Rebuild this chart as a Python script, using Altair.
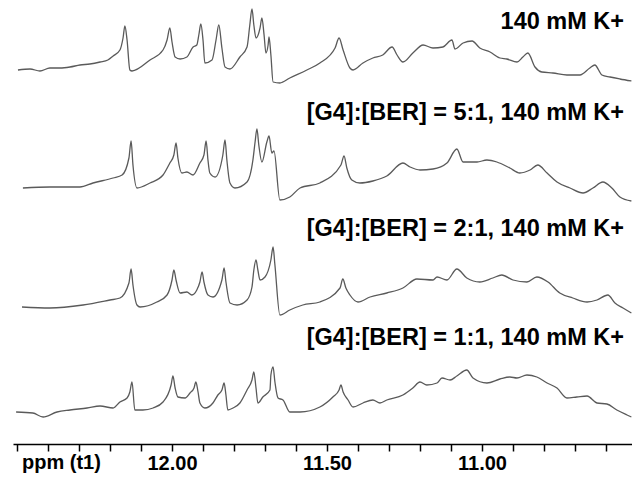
import altair as alt
import pandas as pd

# ---- Trace 1: 140 mM K+ (top) ----
ppm1 = [12.497, 12.458, 12.426, 12.394, 12.361, 12.329, 12.297, 12.265, 12.232, 12.207,
        12.190, 12.168, 12.158, 12.152, 12.145, 12.136, 12.129, 12.071, 12.029, 12.016,
        12.007, 12.000, 11.990, 11.974, 11.952, 11.932, 11.920, 11.913, 11.907, 11.900,
        11.894, 11.871, 11.858, 11.849, 11.839, 11.829, 11.813, 11.781, 11.758, 11.749,
        11.742, 11.736, 11.729, 11.716, 11.710, 11.703, 11.697, 11.690, 11.687, 11.681,
        11.674, 11.652, 11.620, 11.565, 11.523, 11.474, 11.461, 11.448, 11.426, 11.416,
        11.384, 11.352, 11.320, 11.290, 11.274, 11.255, 11.223, 11.190, 11.158, 11.126,
        11.097, 11.087, 11.061, 11.032, 11.007, 10.974, 10.942, 10.920, 10.887, 10.868,
        10.852, 10.829, 10.807, 10.771, 10.726, 10.684, 10.652, 10.636, 10.613, 10.587,
        10.555, 10.518]
int1 = [0, 1, -1, 2, 2, 3, 5, 6, 8, 10,
        14, 20, 32, 44, 30, 0, -1, 10, 20, 30,
        42, 28, 13, 11, 13, 23, 25, 36, 46, 30,
        7, 10, 30, 45, 22, 3, 1, 13, 23, 45,
        61, 45, 32, 42, 52, 35, 17, 25, 33, 15,
        -12, -13, -8, 0, 7, 22, 32, 20, 2, 0,
        7, 12, 15, 23, 15, 8, 17, 25, 22, 23,
        30, 21, 27, 29, 22, 18, 12, 11, 8, 13,
        17, 3, -2, -3, -5, -5, 2, 5, -5, -7,
        -9, -11]

# ---- Trace 2: [G4]:[BER] = 5:1 ----
ppm2 = [12.481, 12.394, 12.297, 12.255, 12.190, 12.161, 12.139, 12.132, 12.126, 12.113,
        12.071, 12.029, 12.007, 11.994, 11.987, 11.981, 11.968, 11.952, 11.932, 11.910,
        11.897, 11.890, 11.884, 11.878, 11.861, 11.836, 11.829, 11.823, 11.813, 11.797,
        11.758, 11.739, 11.732, 11.726, 11.720, 11.710, 11.694, 11.687, 11.678, 11.671,
        11.652, 11.620, 11.587, 11.523, 11.455, 11.445, 11.436, 11.420, 11.394, 11.352,
        11.307, 11.255, 11.232, 11.200, 11.158, 11.113, 11.081, 11.061, 11.016, 10.984,
        10.952, 10.910, 10.878, 10.845, 10.820, 10.790, 10.758, 10.716, 10.674, 10.642,
        10.610, 10.581, 10.555, 10.518]
int2 = [0, 1, 1, 5, 10, 13, 30, 47, 23, 0,
        5, 13, 25, 33, 45, 30, 15, 16, 13, 25,
        33, 47, 28, 15, 11, 33, 48, 28, 5, 0,
        6, 28, 46, 59, 43, 26, 46, 52, 35, 37,
        -12, -9, 0, 5, 23, 32, 20, 8, 5, 7,
        12, 25, 21, 18, 19, 25, 39, 26, 26, 28,
        26, 20, 15, 18, 23, 15, 6, 0, -5, 0,
        6, 0, -9, -13]

# ---- Trace 3: [G4]:[BER] = 2:1 ----
ppm3 = [12.484, 12.394, 12.287, 12.200, 12.168, 12.139, 12.132, 12.126, 12.113, 12.103,
        12.049, 12.016, 12.000, 11.994, 11.987, 11.974, 11.952, 11.936, 11.920, 11.910,
        11.903, 11.897, 11.884, 11.868, 11.839, 11.832, 11.826, 11.813, 11.790, 11.758,
        11.742, 11.736, 11.729, 11.723, 11.716, 11.700, 11.681, 11.674, 11.668, 11.652,
        11.620, 11.578, 11.523, 11.458, 11.449, 11.439, 11.426, 11.400, 11.361, 11.307,
        11.255, 11.210, 11.158, 11.145, 11.113, 11.081, 11.049, 11.007, 10.965, 10.936,
        10.900, 10.855, 10.823, 10.787, 10.749, 10.707, 10.661, 10.629, 10.594, 10.571,
        10.545, 10.518]
int3 = [0, -1, 2, 7, 9, 24, 38, 22, 2, 0,
        5, 12, 27, 37, 27, 14, 15, 12, 17, 25,
        35, 25, 12, 10, 27, 39, 25, 4, 2, 7,
        20, 37, 47, 37, 27, 30, 47, 60, 42, -8,
        -3, 2, 5, 19, 28, 19, 12, 5, 10, 14,
        19, 28, 27, 30, 27, 38, 29, 25, 29, 32,
        27, 25, 30, 25, 14, 9, 5, 7, 12, 4,
        -1, -6]

# ---- Trace 4: [G4]:[BER] = 1:1 ----
ppm4 = [12.503, 12.449, 12.416, 12.371, 12.329, 12.274, 12.232, 12.190, 12.168, 12.145,
        12.136, 12.129, 12.120, 12.094, 12.061, 12.029, 12.003, 11.997, 11.990, 11.981,
        11.958, 11.942, 11.929, 11.923, 11.916, 11.910, 11.894, 11.868, 11.852, 11.839,
        11.832, 11.826, 11.820, 11.803, 11.781, 11.758, 11.742, 11.736, 11.729, 11.723,
        11.707, 11.684, 11.681, 11.674, 11.668, 11.658, 11.642, 11.620, 11.587, 11.523,
        11.481, 11.461, 11.455, 11.448, 11.432, 11.416, 11.384, 11.352, 11.329, 11.307,
        11.255, 11.223, 11.200, 11.178, 11.145, 11.129, 11.103, 11.081, 11.049, 11.029,
        10.984, 10.942, 10.910, 10.887, 10.855, 10.823, 10.790, 10.758, 10.726, 10.694,
        10.661, 10.629, 10.597, 10.565, 10.532, 10.518]
int4 = [-2, -3, -7, -2, 0, 2, 4, 2, 8, 12,
        18, 28, 0, 0, 2, 8, 25, 34, 22, 13,
        12, 17, 22, 28, 18, 7, 2, 7, 15, 20,
        27, 15, 0, 2, 7, 20, 30, 38, 22, 7,
        13, 20, 35, 43, 28, 12, 10, -2, -2, 3,
        13, 20, 25, 18, 10, 3, 7, 10, 7, 10,
        15, 22, 28, 25, 27, 32, 30, 34, 40, 32,
        27, 31, 33, 32, 35, 33, 27, 22, 12, 13,
        14, 7, 6, 0, -5, -7]

labels = ["140 mM K+",
          "[G4]:[BER] = 5:1, 140 mM K+",
          "[G4]:[BER] = 2:1, 140 mM K+",
          "[G4]:[BER] = 1:1, 140 mM K+"]
offsets = [378, 260, 141, 38]       # vertical stacking of traces
label_y = [14, 105, 221, 330]       # label positions (pixels)

rows = []
for k, (p, v) in enumerate([(ppm1, int1), (ppm2, int2), (ppm3, int3), (ppm4, int4)]):
    for a, b in zip(p, v):
        rows.append({"trace": k, "ppm": a, "y": b + offsets[k]})
df = pd.DataFrame(rows)

tick_vals = [round(12.5 - 0.1 * i, 1) for i in range(20)]

x_scale = alt.Scale(domain=[10.516, 12.513], reverse=True, nice=False, zero=False)
y_scale = alt.Scale(domain=[4, 440], nice=False, zero=False)

lines = alt.Chart(df).mark_line(color="#5a5a5a", strokeWidth=1.3,
                                interpolate="monotone").encode(
    x=alt.X("ppm:Q", scale=x_scale,
            axis=alt.Axis(values=tick_vals,
                          labelExpr="(datum.value < 12.3 && abs(datum.value*2 - round(datum.value*2)) < 0.01) ? format(datum.value, '.2f') : ''",
                          title=None, grid=False, domainColor="black", domainWidth=1.5,
                          tickColor="black", tickSize=7, tickWidth=1.5,
                          labelFont="Liberation Sans", labelFontWeight="bold",
                          labelFontSize=20, labelColor="black", labelPadding=2,
                          labelFlush=False, labelOverlap=False)),
    y=alt.Y("y:Q", scale=y_scale, axis=None),
    detail="trace:N",
)

one = pd.DataFrame({"a": [0]})
texts = []
for lab, ly in zip(labels, label_y):
    texts.append(alt.Chart(one).mark_text(
        align="right", baseline="middle", font="Liberation Sans", fontWeight="bold",
        fontSize=23.5, color="black", text=lab).encode(x=alt.value(611), y=alt.value(ly)))

ppm_label = alt.Chart(one).mark_text(
    align="left", baseline="middle", font="Liberation Sans", fontWeight="bold",
    fontSize=20, color="black", text="ppm (t1)").encode(x=alt.value(9), y=alt.value(455))

chart = alt.layer(lines, *texts, ppm_label).properties(
    width=619, height=436,
    padding={"left": 5, "top": 0, "right": 0, "bottom": 30},
    autosize="none",
).configure_view(stroke=None)

chart.save("out.html", embed_options={"renderer": "svg", "actions": False})
